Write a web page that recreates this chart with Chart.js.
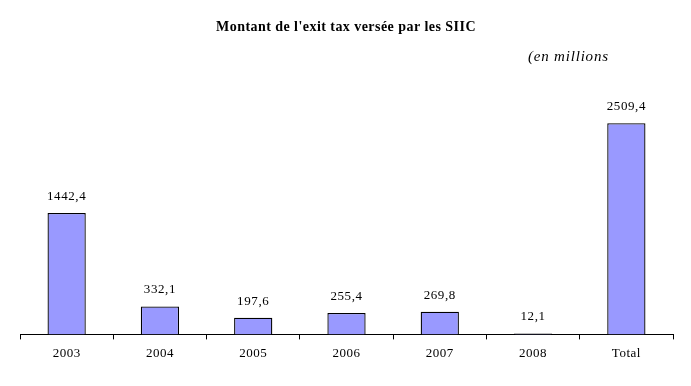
<!DOCTYPE html>
<html>
<head>
<meta charset="utf-8">
<script src="https://cdn.jsdelivr.net/npm/chart.js@4/dist/chart.umd.min.js"></script>
<style>
  html, body { margin: 0; padding: 0; background: #fff; }
  #wrap { width: 691px; height: 386px; }
</style>
</head>
<body>
<div id="wrap"><canvas id="chart"></canvas></div>
<script>
const categories = ['2003', '2004', '2005', '2006', '2007', '2008', 'Total'];
const exitTax = [1442.4, 332.1, 197.6, 255.4, 269.8, 12.1, 2509.4];
const valueLabels = ['1442,4', '332,1', '197,6', '255,4', '269,8', '12,1', '2509,4'];

const titleText = "Montant de l'exit tax versée par les SIIC";
const unitText = '(en millions';

// titles + value labels drawn on the canvas
const textPlugin = {
  id: 'texts',
  beforeDraw(chart) {
    chart.ctx.letterSpacing = '0.5px';
  },
  afterDatasetsDraw(chart) {
    const ctx = chart.ctx;
    ctx.save();
    ctx.fillStyle = '#000';
    ctx.textAlign = 'center';
    ctx.textBaseline = 'middle';
    ctx.font = 'bold 14px "Liberation Serif"';
    ctx.letterSpacing = '0.45px';
    ctx.fillText(titleText, 346, 27);
    ctx.font = 'italic 15px "Liberation Serif"';
    ctx.letterSpacing = '0.8px';
    ctx.textAlign = 'left';
    ctx.fillText(unitText, 528, 57);

    ctx.font = '13px "Liberation Serif"';
    ctx.letterSpacing = '0.6px';
    ctx.textAlign = 'center';
    ctx.textBaseline = 'alphabetic';
    chart.getDatasetMeta(0).data.forEach((bar, i) => {
      ctx.fillText(valueLabels[i], bar.x, bar.y - 13);
    });
    ctx.restore();
  }
};

new Chart(document.getElementById('chart'), {
  type: 'bar',
  data: {
    labels: categories,
    datasets: [{
      data: exitTax,
      backgroundColor: '#9999ff',
      borderColor: '#000',
      borderWidth: 1.3,
      categoryPercentage: 1,
      barPercentage: 0.41
    }]
  },
  options: {
    responsive: true,
    maintainAspectRatio: false,
    animation: false,
    layout: { padding: { left: 20, right: 18, top: 82, bottom: 19 } },
    plugins: {
      legend: { display: false },
      tooltip: { enabled: false }
    },
    scales: {
      x: {
        grid: {
          offset: true,
          drawOnChartArea: false,
          drawTicks: true,
          tickLength: 5,
          color: '#000'
        },
        border: { display: true, color: '#000', width: 1 },
        ticks: {
          color: '#000',
          font: { family: '"Liberation Serif"', size: 13 },
          padding: 6
        }
      },
      y: {
        display: false,
        min: 0,
        max: 3000
      }
    }
  },
  plugins: [textPlugin]
});
</script>
</body>
</html>
